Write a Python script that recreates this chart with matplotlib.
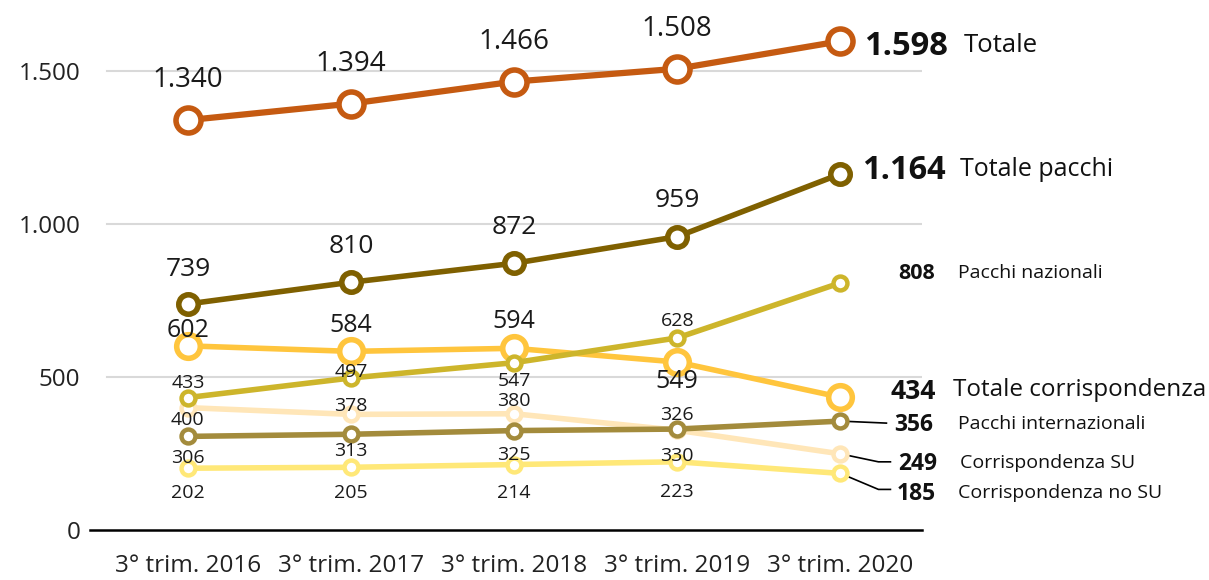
import matplotlib
matplotlib.use("Agg")
import matplotlib.pyplot as plt
from matplotlib.ticker import FuncFormatter

plt.rcParams['font.family'] = ['Open Sans', 'DejaVu Sans']

categories = ["3° trim. 2016", "3° trim. 2017", "3° trim. 2018", "3° trim. 2019", "3° trim. 2020"]
totale = [1340, 1394, 1466, 1508, 1598]
totale_pacchi = [739, 810, 872, 959, 1164]
pacchi_nazionali = [433, 497, 547, 628, 808]
totale_corr = [602, 584, 594, 549, 434]
corr_su = [400, 378, 380, 326, 249]
pacchi_int = [306, 313, 325, 330, 356]
corr_no_su = [202, 205, 214, 223, 185]
y_ticks = [0, 500, 1000, 1500]


def it(v):
    return f"{v:,}".replace(",", ".")


fig = plt.figure(figsize=(12.09, 5.80), dpi=100)
ax = fig.add_axes([90/1209, 50/580, (922-90)/1209, (570-50)/580])
x = list(range(len(categories)))

ax.set_xlim(-0.6, 4.5)
ax.set_ylim(0, 1700)

# series: name, values, color, linewidth, marker size, edge width, label offsets (px), label size, zorder
series = [
    ("Corrispondenza SU", corr_su, "#FFE6B8", 4, 10, 3.2, [(0, -12), (0, 8), (0, 13), (0, 15)], 14, 2),
    ("Corrispondenza no SU", corr_no_su, "#FFE878", 4, 10, 3.2, [(0, -25), (0, -26), (0, -28), (0, -30)], 14, 2),
    ("Pacchi internazionali", pacchi_int, "#A38B3C", 4, 10, 3.2, [(0, -22), (0, -17), (0, -24), (0, -27)], 14, 3),
    ("Totale corrispondenza", totale_corr, "#FFC53D", 4, 17, 4, [(0, 15), (0, 26), (0, 27), (0, -19)], 18, 4),
    ("Pacchi nazionali", pacchi_nazionali, "#CDB52B", 4, 10, 3.2, [(0, 15), (0, 6), (0, -18), (0, 17)], 14, 5),
    ("Totale pacchi", totale_pacchi, "#7F6000", 4, 14, 4, [(0, 34), (0, 36), (0, 36), (0, 36)], 19, 6),
    ("Totale", totale, "#C55A11", 4.5, 18, 4, [(0, 40), (0, 40), (0, 40), (0, 40)], 20, 7),
]

for name, vals, col, lw, ms, mew, offs, fs, z in series:
    ax.plot(x, vals, color=col, lw=lw, marker="o", ms=ms, mfc="white", mec=col,
            mew=mew, zorder=z, solid_capstyle="round")
    for i in range(4):
        ax.annotate(it(vals[i]), (x[i], vals[i]), xytext=offs[i], textcoords="offset pixels",
                    ha="center", va="center", fontsize=fs, color="#1a1a1a", zorder=10)

# right-side labels: (values, name, dy px, value right edge px, name left px, value size, name size)
right_labels = [
    (totale, "Totale", -5, 948, 963, 23.5, 18.5),
    (totale_pacchi, "Totale pacchi", 3, 945, 960, 23.5, 18),
    (pacchi_nazionali, "Pacchi nazionali", 9, 935, 958, 15.5, 14),
    (totale_corr, "Totale corrispondenza", 6, 935, 953, 19, 17.5),
    (pacchi_int, "Pacchi internazionali", -4, 933, 958, 16.5, 14),
    (corr_su, "Corrispondenza SU", -10, 937, 960, 16.5, 14),
    (corr_no_su, "Corrispondenza no SU", -21, 935, 958, 16.5, 14),
]
for vals, name, dy, vx, nx, vfs, nfs in right_labels:
    v = vals[-1]
    ax.annotate(it(v), (x[-1], v), xytext=(vx - 840, dy), textcoords="offset pixels",
                ha="right", va="center", fontsize=vfs, fontweight="bold", color="#111111",
                annotation_clip=False)
    ax.annotate(name, (x[-1], v), xytext=(nx - 840, dy + 1), textcoords="offset pixels",
                ha="left", va="center", fontsize=nfs, color="#111111", annotation_clip=False)

# leader lines (pixel offsets from the last marker)
for vals, pts in [
    (pacchi_int, [(0, 0), (46, -2)]),
    (corr_su, [(0, 0), (38, -8), (50, -8)]),
    (corr_no_su, [(0, 0), (38, -16), (50, -16)]),
]:
    v = vals[-1]
    t0 = ax.transData.transform((x[-1], v))
    inv = ax.transData.inverted()
    dpts = [inv.transform((t0[0] + dx, t0[1] + dy)) for dx, dy in pts]
    ax.plot([p[0] for p in dpts], [p[1] for p in dpts], color="black", lw=1.2,
            clip_on=False, zorder=1.5)

ax.set_yticks(y_ticks)
ax.yaxis.set_major_formatter(FuncFormatter(lambda v, p: it(int(v))))
ax.set_xticks(x)
ax.set_xticklabels(categories)
ax.tick_params(axis="both", length=0, labelsize=17.5, colors="#222222")
ax.tick_params(axis="x", pad=17)
ax.tick_params(axis="y", pad=7)
for yv in y_ticks[1:]:
    ax.axhline(yv, xmin=(107 - 90) / 832, xmax=1, color="#D9D9D9", lw=1.5, zorder=0.5)
for s in ["top", "right", "left"]:
    ax.spines[s].set_visible(False)
ax.spines["bottom"].set_color("black")
ax.spines["bottom"].set_linewidth(1.8)
ax.patch.set_alpha(0)

fig.savefig("out.png", dpi=100, facecolor="white")
